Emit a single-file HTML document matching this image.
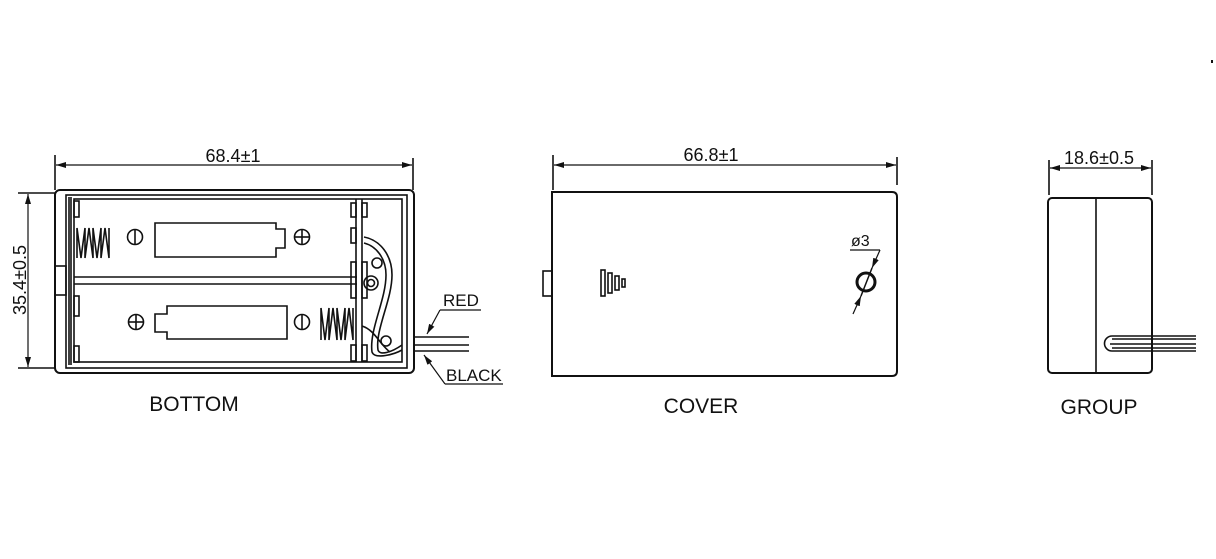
<!DOCTYPE html>
<html><head><meta charset="utf-8"><style>
html,body{margin:0;padding:0;background:#fff;width:1216px;height:559px;overflow:hidden}
text{font-family:"Liberation Sans",sans-serif;fill:#111}
</style></head><body>
<svg width="1216" height="559" viewBox="0 0 1216 559" xmlns="http://www.w3.org/2000/svg">
<defs><marker id="a" viewBox="0 0 10 6" refX="10" refY="3" markerWidth="10" markerHeight="6" orient="auto-start-reverse" markerUnits="userSpaceOnUse"><path d="M0,0L10,3L0,6z" fill="#111"/></marker></defs>
<g fill="none" stroke="#111" stroke-width="1.6">
<!-- BOTTOM -->
<line x1="55" y1="155" x2="55" y2="190"/><line x1="413" y1="158" x2="413" y2="190"/>
<line x1="56" y1="165" x2="412" y2="165" marker-start="url(#a)" marker-end="url(#a)" stroke-width="1.2"/>
<line x1="18" y1="193" x2="55" y2="193"/><line x1="18" y1="368" x2="55" y2="368"/>
<line x1="28" y1="194" x2="28" y2="367" marker-start="url(#a)" marker-end="url(#a)" stroke-width="1.2"/>
<rect x="55" y="190" width="359" height="183" rx="5" stroke-width="2"/>
<rect x="66" y="195" width="341" height="173"/>
<rect x="74" y="199" width="328" height="163"/>
<line x1="69" y1="197" x2="69" y2="365"/><line x1="71" y1="197" x2="71" y2="365"/>
<rect x="55" y="266" width="11" height="29"/>
<line x1="74" y1="277" x2="357" y2="277"/><line x1="74" y1="284" x2="357" y2="284"/>
<line x1="356" y1="199" x2="356" y2="362"/><line x1="362" y1="199" x2="362" y2="362"/>
<rect x="74" y="201" width="5" height="16"/><rect x="74" y="346" width="5" height="16"/><rect x="74" y="296" width="5" height="20"/>
<rect x="351" y="203" width="5" height="14"/><rect x="351" y="228" width="5" height="15"/><rect x="351" y="262" width="5" height="36"/><rect x="351" y="345" width="5" height="16"/>
<rect x="362" y="203" width="5" height="14"/><rect x="362" y="262" width="5" height="36"/><rect x="362" y="345" width="5" height="16"/>
<path d="M155,223H276V229H285V248H276V257H155Z"/>
<path d="M167,306H287V339H167V332H155V314H167Z"/>
<path d="M77,258V228L81,258L85,228V258L89,228L93,258V228L97,258L101,228V258L105,228L109,258V228"/>
<path d="M321,340V308L325,340L329,308V340L333,308L337,340V308L341,340L345,308V340L349,308L353,340V308"/>
<circle cx="135" cy="237" r="7.5"/><line x1="135" y1="230" x2="135" y2="244"/>
<circle cx="302" cy="237" r="7.5"/><line x1="302" y1="230" x2="302" y2="244"/><line x1="295" y1="237" x2="309" y2="237"/>
<circle cx="136" cy="322" r="7.5"/><line x1="136" y1="315" x2="136" y2="329"/><line x1="129" y1="322" x2="143" y2="322"/>
<circle cx="302" cy="322" r="7.5"/><line x1="302" y1="315" x2="302" y2="329"/>
<circle cx="377" cy="263" r="5"/><circle cx="371" cy="283" r="7"/><circle cx="371" cy="283" r="3.5"/><circle cx="386" cy="341" r="5"/>
<path d="M364,237C380,240 392,255 392,275C392,300 375,330 378,350C380,356 392,352 402,345"/>
<path d="M364,243C376,246 386,258 386,275C386,300 369,330 372,352C375,360 395,354 402,350"/>
<path d="M362,326C375,330 380,345 390,352"/>
<line x1="414" y1="337" x2="469" y2="337"/><line x1="414" y1="345" x2="469" y2="345"/><line x1="414" y1="351" x2="469" y2="351"/>
<line x1="440" y1="310" x2="481" y2="310" stroke-width="1.2"/><line x1="440" y1="310" x2="427" y2="334" stroke-width="1.2" marker-end="url(#a)"/>
<line x1="445" y1="384" x2="503" y2="384" stroke-width="1.2"/><line x1="445" y1="384" x2="424" y2="355" stroke-width="1.2" marker-end="url(#a)"/>
<!-- COVER -->
<line x1="553" y1="155" x2="553" y2="190"/><line x1="897" y1="157" x2="897" y2="185"/>
<line x1="554" y1="165" x2="896" y2="165" marker-start="url(#a)" marker-end="url(#a)" stroke-width="1.2"/>
<path d="M552,192H892Q897,192 897,197V371Q897,376 892,376H552Z" stroke-width="2"/>
<rect x="543" y="271" width="9" height="25"/>
<rect x="601" y="270" width="4" height="26"/><rect x="608" y="273" width="4" height="20"/><rect x="615" y="276" width="4" height="14"/><rect x="622" y="279" width="3" height="8"/>
<circle cx="866" cy="282" r="9" stroke-width="3"/>
<line x1="850" y1="250" x2="880" y2="250" stroke-width="1.2"/>
<line x1="880" y1="250" x2="872" y2="268" stroke-width="1.2" marker-end="url(#a)"/>
<line x1="853" y1="314" x2="861" y2="296" stroke-width="1.2" marker-end="url(#a)"/>
<line x1="872" y1="268" x2="861" y2="296" stroke-width="1.5"/>
<!-- GROUP -->
<line x1="1049" y1="160" x2="1049" y2="195"/><line x1="1152" y1="160" x2="1152" y2="195"/>
<line x1="1050" y1="168" x2="1151" y2="168" marker-start="url(#a)" marker-end="url(#a)" stroke-width="1.2"/>
<rect x="1048" y="198" width="104" height="175" rx="4" stroke-width="2"/>
<line x1="1096" y1="198" x2="1096" y2="373"/>
<path d="M1196,336H1112A7,7 0 0 0 1112,351H1196"/>
<line x1="1110" y1="344" x2="1196" y2="344"/><line x1="1112" y1="339" x2="1196" y2="339"/><line x1="1112" y1="348" x2="1196" y2="348"/>
</g>
<rect x="1211" y="60" width="2" height="3" fill="#111"/>
<text x="233" y="162" font-size="18" text-anchor="middle">68.4±1</text>
<text transform="translate(26,280) rotate(-90)" font-size="18" text-anchor="middle">35.4±0.5</text>
<text x="443" y="306" font-size="17">RED</text>
<text x="446" y="381" font-size="17">BLACK</text>
<text x="194" y="411" font-size="21" text-anchor="middle">BOTTOM</text>
<text x="711" y="161" font-size="18" text-anchor="middle">66.8±1</text>
<text x="851" y="246" font-size="16">ø3</text>
<text x="701" y="413" font-size="21" text-anchor="middle">COVER</text>
<text x="1099" y="164" font-size="18" text-anchor="middle">18.6±0.5</text>
<text x="1099" y="414" font-size="21" text-anchor="middle">GROUP</text>
</svg>
</body></html>
